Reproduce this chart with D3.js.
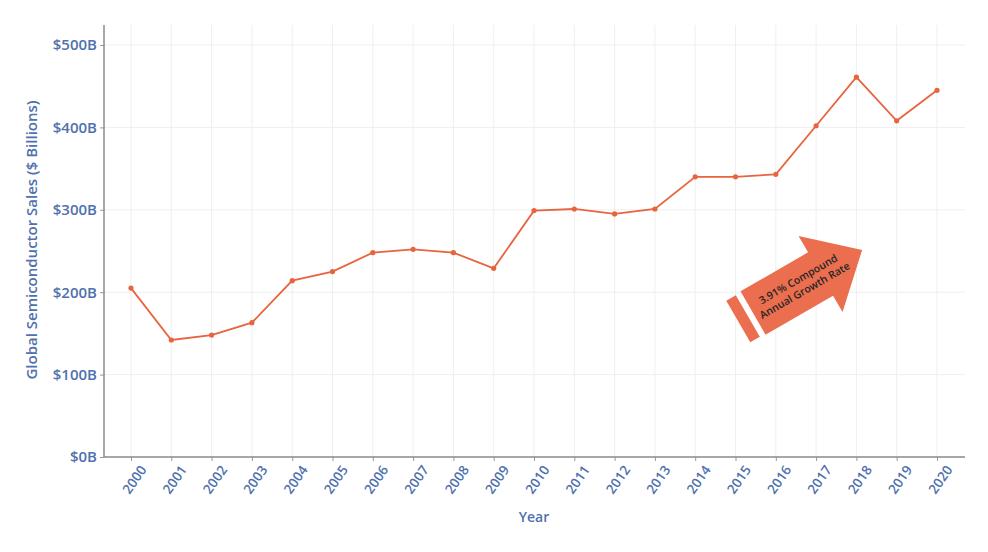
<!DOCTYPE html>
<html><head><meta charset="utf-8">
<script src="https://cdn.jsdelivr.net/npm/d3@7"></script>
<style>body{margin:0;background:#fff;} svg{display:block;}</style>
</head><body>
<svg id="c" width="988" height="552"></svg>
<script>
const years = ["2000","2001","2002","2003","2004","2005","2006","2007","2008","2009","2010","2011","2012","2013","2014","2015","2016","2017","2018","2019","2020"];
const sales = [205,142,148,163,214,225,248,252,248,229,299,301,295,301,340,340,343,402,461,408,445];
const yTicks = [0,100,200,300,400,500];
const annotationLines = ["3.91% Compound","Annual Growth Rate"];

const svg = d3.select("#c");
const blue = "#4f71ad";
const orange = "#e8643f";
const font = "'Open Sans', sans-serif";

const x = d3.scalePoint().domain(years).range([131,937]);
const y = d3.scaleLinear().domain([0,500]).range([457,45]);

// grid
svg.append("g").selectAll("line").data(years).join("line")
  .attr("x1",d=>x(d)).attr("x2",d=>x(d)).attr("y1",25).attr("y2",457)
  .attr("stroke","#efefef").attr("stroke-width",1);
svg.append("g").selectAll("line").data(yTicks.slice(1)).join("line")
  .attr("x1",104).attr("x2",965).attr("y1",d=>y(d)).attr("y2",d=>y(d))
  .attr("stroke","#efefef").attr("stroke-width",1);

// axes
const yAxis = svg.append("g").attr("transform","translate(104,0)")
  .call(d3.axisLeft(y).tickValues(yTicks).tickFormat(d=>"$"+d+"B").tickSize(4).tickPadding(3));
yAxis.select(".domain").remove();
svg.append("line").attr("x1",104).attr("x2",104).attr("y1",25).attr("y2",457).attr("stroke","#8a8a8a").attr("stroke-width",1.5);
yAxis.selectAll(".tick line").attr("stroke","#999");
yAxis.selectAll("text").attr("fill",blue).attr("font-family",font).attr("font-weight",600).attr("font-size",15);

const xAxis = svg.append("g").attr("transform","translate(0,457)")
  .call(d3.axisBottom(x).tickSize(4).tickPadding(4));
xAxis.select(".domain").remove();
svg.append("line").attr("x1",104).attr("x2",965).attr("y1",457).attr("y2",457).attr("stroke","#8a8a8a").attr("stroke-width",1.5);
xAxis.selectAll(".tick line").attr("stroke","#999");
xAxis.selectAll("text").attr("fill",blue).attr("font-family",font).attr("font-weight",600).attr("font-size",13.5)
  .attr("text-anchor","end").attr("dx","-0.1em").attr("dy","0.9em")
  .attr("transform","rotate(-55)");

// axis titles
svg.append("text").attr("transform","translate(37,240) rotate(-90)").attr("text-anchor","middle")
  .attr("fill",blue).attr("font-family",font).attr("font-weight",600).attr("font-size",15)
  .text("Global Semiconductor Sales ($ Billions)");
svg.append("text").attr("x",534).attr("y",522).attr("text-anchor","middle")
  .attr("fill",blue).attr("font-family",font).attr("font-weight",600).attr("font-size",14)
  .text("Year");

// line
const line = d3.line().x((d,i)=>x(years[i])).y(d=>y(d));
svg.append("path").datum(sales).attr("d",line).attr("fill","none").attr("stroke",orange).attr("stroke-width",1.8);
svg.append("g").selectAll("circle").data(sales).join("circle")
  .attr("cx",(d,i)=>x(years[i])).attr("cy",d=>y(d)).attr("r",2.6).attr("fill",orange);

// arrow annotation
const ag = svg.append("g").attr("transform","translate(753,313) rotate(-30)");
const arrowFill = "#eb6e4f";
ag.append("polygon").attr("points","-17,-24 -6,-24 -6,24 -17,24").attr("fill",arrowFill);
ag.append("polygon").attr("points","0,-25 78,-25 78,-44 126,0 78,44 78,25 0,25").attr("fill",arrowFill);
const at = ag.append("text").attr("x",56).attr("y",-3).attr("text-anchor","middle")
  .attr("font-family",font).attr("font-weight",600).attr("font-size",10.5).attr("fill","#262626");
annotationLines.forEach((t,i)=>at.append("tspan").attr("x",56).attr("dy",i?13:0).text(t));
</script>
</body></html>
